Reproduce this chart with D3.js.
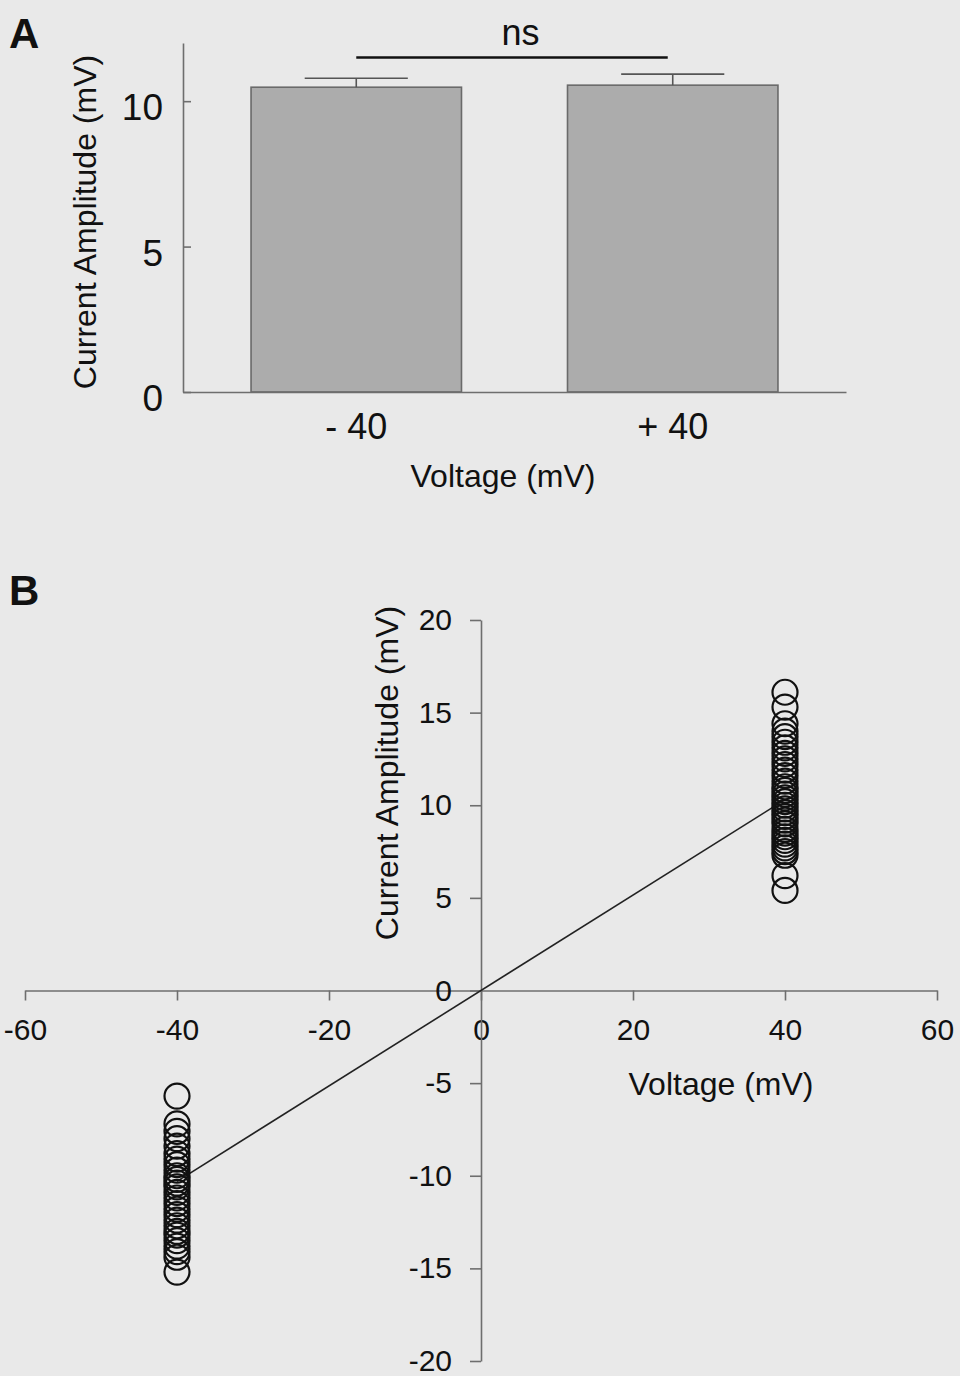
<!DOCTYPE html>
<html>
<head>
<meta charset="utf-8">
<script src="https://cdn.jsdelivr.net/npm/d3@7"></script>
<style>
  html, body { margin: 0; padding: 0; background: #e9e9e9; }
  svg { display: block; font-family: Arial, "Liberation Sans", sans-serif; }
</style>
</head>
<body>
<svg id="fig" width="960" height="1376"></svg>
<script>
// ---- Panel A: mean current amplitude at each holding voltage ----
const voltageGroups = ["- 40", "+ 40"];
const meanAmplitude = [10.48, 10.55];
const semAmplitude = [0.31, 0.38];
const barTicks = [0, 5, 10];
const sigLabel = "ns";
const sigLevel = 11.5;

// ---- Panel B: individual cells at -40 and +40 mV ----
const negVoltage = -40;
const posVoltage = 40;
const negAmplitudes = [-5.7, -7.2, -7.6, -8.0, -8.4, -8.8, -9.1, -9.4, -9.7, -10.0,
  -10.2, -10.4, -10.6, -10.9, -11.2, -11.5, -11.8, -12.1, -12.4, -12.7,
  -13.0, -13.2, -13.5, -13.8, -14.1, -14.4, -15.2];
const posAmplitudes = [16.1, 15.3, 14.4, 14.0, 13.7, 13.4, 13.1, 12.8, 12.5, 12.2,
  11.9, 11.6, 11.3, 11.0, 10.8, 10.6, 10.4, 10.2, 10.0, 9.8, 9.6, 9.4, 9.2,
  9.0, 8.7, 8.5, 8.3, 8.1, 7.9, 7.7, 7.5, 7.3, 6.2, 5.4];
const fitLine = [[-40, -10.3], [40, 10.3]];
const xTicksB = [-60, -40, -20, 0, 20, 40, 60];
const yTicksB = [-20, -15, -10, -5, 0, 5, 10, 15, 20];

const svg = d3.select("#fig");
const axisColor = "#6e6e6e";
const textColor = "#111";
const plain = d => String(d); // hyphen-minus, as printed on the axes

function styleAxis(g, fontSize) {
  g.selectAll("path.domain").attr("stroke", axisColor).attr("stroke-width", 1.6);
  g.selectAll(".tick line").attr("stroke", axisColor).attr("stroke-width", 1.6);
  g.selectAll(".tick text").attr("fill", textColor).style("font-size", fontSize + "px")
    .style("font-family", "Arial, 'Liberation Sans', sans-serif");
}

// ================= Panel A =================
const xA = d3.scaleBand().domain(voltageGroups).range([183, 846])
  .paddingInner(0.335).paddingOuter(0.215);
const yA = d3.scaleLinear().domain([0, 12]).range([392, 43]);

const gA = svg.append("g");

// bars
gA.selectAll("rect.bar").data(voltageGroups).join("rect")
  .attr("class", "bar")
  .attr("x", d => xA(d))
  .attr("width", xA.bandwidth())
  .attr("y", (d, i) => yA(meanAmplitude[i]))
  .attr("height", (d, i) => yA(0) - yA(meanAmplitude[i]))
  .attr("fill", "#acacac")
  .attr("stroke", "#6a6a6a")
  .attr("stroke-width", 1.6);

// error bars (upper arm only)
const capHalf = xA.bandwidth() * 0.245;
voltageGroups.forEach((d, i) => {
  const cx = xA(d) + xA.bandwidth() / 2;
  const top = yA(meanAmplitude[i] + semAmplitude[i]);
  gA.append("line").attr("x1", cx).attr("x2", cx)
    .attr("y1", yA(meanAmplitude[i])).attr("y2", top)
    .attr("stroke", "#555").attr("stroke-width", 1.6);
  gA.append("line").attr("x1", cx - capHalf).attr("x2", cx + capHalf)
    .attr("y1", top).attr("y2", top)
    .attr("stroke", "#555").attr("stroke-width", 1.6);
});

// axes
const yAxisA = gA.append("g").attr("transform", "translate(183,0)")
  .call(d3.axisLeft(yA).tickValues(barTicks).tickFormat(plain)
    .tickSizeInner(-8).tickSizeOuter(0).tickPadding(20));
styleAxis(yAxisA, 37);
yAxisA.selectAll(".tick text").attr("dy", "0.5em");

const xAxisA = gA.append("g").attr("transform", "translate(0,392)")
  .call(d3.axisBottom(xA).tickSize(0).tickPadding(21));
styleAxis(xAxisA, 36);

// significance bracket
const c0 = xA(voltageGroups[0]) + xA.bandwidth() / 2;
const c1 = xA(voltageGroups[1]) + xA.bandwidth() / 2;
gA.append("line").attr("x1", c0).attr("x2", c1 - 5)
  .attr("y1", yA(sigLevel)).attr("y2", yA(sigLevel))
  .attr("stroke", "#111").attr("stroke-width", 2.6);
gA.append("text").attr("x", (c0 + c1) / 2 + 6).attr("y", 45)
  .attr("text-anchor", "middle").attr("fill", textColor)
  .style("font-size", "36px").text(sigLabel);

// titles
gA.append("text").attr("transform", "translate(96,222) rotate(-90)")
  .attr("text-anchor", "middle").attr("fill", textColor)
  .style("font-size", "32px").text("Current Amplitude (mV)");
gA.append("text").attr("x", 503).attr("y", 487)
  .attr("text-anchor", "middle").attr("fill", textColor)
  .style("font-size", "32px").text("Voltage (mV)");
gA.append("text").attr("x", 9).attr("y", 48)
  .attr("fill", textColor).style("font-size", "42px").style("font-weight", "bold").text("A");

// ================= Panel B =================
const xB = d3.scaleLinear().domain([-60, 60]).range([25, 937]);
const yB = d3.scaleLinear().domain([-20, 20]).range([1361, 620]);
const gB = svg.append("g");

const xAxisB = gB.append("g").attr("transform", `translate(0,${yB(0)})`)
  .call(d3.axisBottom(xB).tickValues(xTicksB).tickFormat(plain)
    .tickSizeInner(10).tickSizeOuter(0).tickPadding(18));
styleAxis(xAxisB, 30);

const yAxisB = gB.append("g").attr("transform", `translate(${xB(0)},0)`)
  .call(d3.axisLeft(yB).tickValues(yTicksB).tickFormat(plain)
    .tickSizeInner(11).tickSizeOuter(0).tickPadding(18));
styleAxis(yAxisB, 30);

// fitted line through the origin
gB.append("path").datum(fitLine)
  .attr("d", d3.line().x(d => xB(d[0])).y(d => yB(d[1])))
  .attr("fill", "none").attr("stroke", "#222").attr("stroke-width", 1.6);

// individual cells
const pts = negAmplitudes.map(v => [negVoltage, v]).concat(posAmplitudes.map(v => [posVoltage, v]));
gB.selectAll("circle.cell").data(pts).join("circle")
  .attr("class", "cell")
  .attr("cx", d => xB(d[0]))
  .attr("cy", d => yB(d[1]))
  .attr("r", 12.5)
  .attr("fill", "none")
  .attr("stroke", "#111")
  .attr("stroke-width", 2.2);

// titles
gB.append("text").attr("transform", "translate(398,773) rotate(-90)")
  .attr("text-anchor", "middle").attr("fill", textColor)
  .style("font-size", "32px").text("Current Amplitude (mV)");
gB.append("text").attr("x", 721).attr("y", 1095)
  .attr("text-anchor", "middle").attr("fill", textColor)
  .style("font-size", "32px").text("Voltage (mV)");
gB.append("text").attr("x", 9).attr("y", 605)
  .attr("fill", textColor).style("font-size", "42px").style("font-weight", "bold").text("B");
</script>
</body>
</html>
